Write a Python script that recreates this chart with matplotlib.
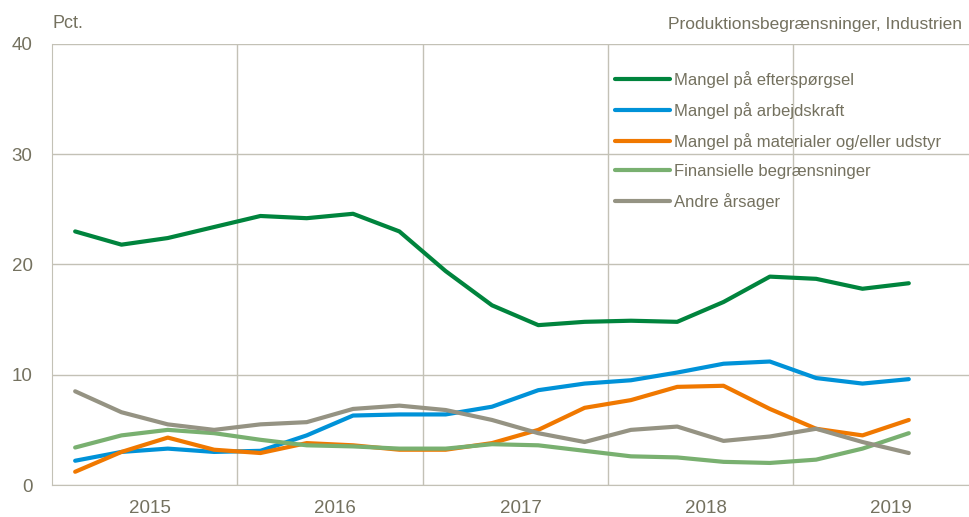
import numpy as np
import matplotlib
matplotlib.use("Agg")
import matplotlib.pyplot as plt

plt.rcParams['font.family'] = ['Liberation Sans', 'DejaVu Sans']

# quarterly observations, 2015 Q1 - 2019 Q3
years = [2015, 2016, 2017, 2018, 2019]
n_quarters = 19

efterspoergsel = [23.0, 21.8, 22.4, 23.4, 24.4, 24.2, 24.6, 23.0, 19.4, 16.3,
                  14.5, 14.8, 14.9, 14.8, 16.6, 18.9, 18.7, 17.8, 18.3]
arbejdskraft = [2.2, 3.0, 3.3, 3.0, 3.1, 4.5, 6.3, 6.4, 6.4, 7.1,
                8.6, 9.2, 9.5, 10.2, 11.0, 11.2, 9.7, 9.2, 9.6]
materialer = [1.2, 3.0, 4.3, 3.2, 2.9, 3.8, 3.6, 3.2, 3.2, 3.8,
              5.0, 7.0, 7.7, 8.9, 9.0, 6.9, 5.1, 4.5, 5.9]
finansielle = [3.4, 4.5, 5.0, 4.7, 4.1, 3.6, 3.5, 3.3, 3.3, 3.7,
               3.6, 3.1, 2.6, 2.5, 2.1, 2.0, 2.3, 3.3, 4.7]
andre = [8.5, 6.6, 5.5, 5.0, 5.5, 5.7, 6.9, 7.2, 6.8, 5.9,
         4.7, 3.9, 5.0, 5.3, 4.0, 4.4, 5.1, 3.9, 2.9]

series = [
    ("Mangel på efterspørgsel", efterspoergsel, "#00843d"),
    ("Mangel på arbejdskraft", arbejdskraft, "#0092d8"),
    ("Mangel på materialer og/eller udstyr", materialer, "#f07800"),
    ("Finansielle begrænsninger", finansielle, "#79b070"),
    ("Andre årsager", andre, "#959383"),
]

text_col = "#74715f"
grid_col = "#c3c1b6"

x = years[0] + 0.125 + 0.25 * np.arange(n_quarters)

fig = plt.figure(figsize=(9.69, 5.17), dpi=100)
ax = fig.add_axes([52 / 969, 32 / 517, 1 - 52 / 969, 441 / 517])

for label, vals, col in series:
    ax.plot(x, vals, color=col, lw=3, label=label, solid_capstyle='round', zorder=3)

ax.set_xlim(2015, 2019.95)
ax.set_ylim(0, 40)
ax.set_yticks([0, 10, 20, 30, 40])
ax.set_xticks([y + 0.53 for y in years])
ax.set_xticklabels([str(y) for y in years])
ax.set_xticks(years[1:], minor=True)
ax.tick_params(axis='both', which='both', length=0, labelcolor=text_col, labelsize=13.5)
ax.tick_params(axis='y', pad=14)
ax.tick_params(axis='x', pad=11)
ax.grid(axis='y', which='major', color=grid_col, lw=1)
ax.grid(axis='x', which='minor', color=grid_col, lw=1)
ax.set_axisbelow(True)
for s in ['top', 'right']:
    ax.spines[s].set_visible(False)
for s in ['left', 'bottom']:
    ax.spines[s].set_color(grid_col)

fig.text(53 / 969, 1 - 23 / 517, "Pct.", color=text_col, fontsize=13, va='center', ha='left')
fig.text(962 / 969, 1 - 25 / 517, "Produktionsbegrænsninger, Industrien", color=text_col,
         fontsize=12.5, va='center', ha='right')

leg = fig.legend(loc='upper left', bbox_to_anchor=(615 / 969, 1 - 71 / 517), frameon=False,
                 fontsize=12, handlelength=3.3, handletextpad=0.25, labelspacing=0.84,
                 borderpad=0, borderaxespad=0)
for t in leg.get_texts():
    t.set_color(text_col)

fig.savefig("out.png", dpi=100)
